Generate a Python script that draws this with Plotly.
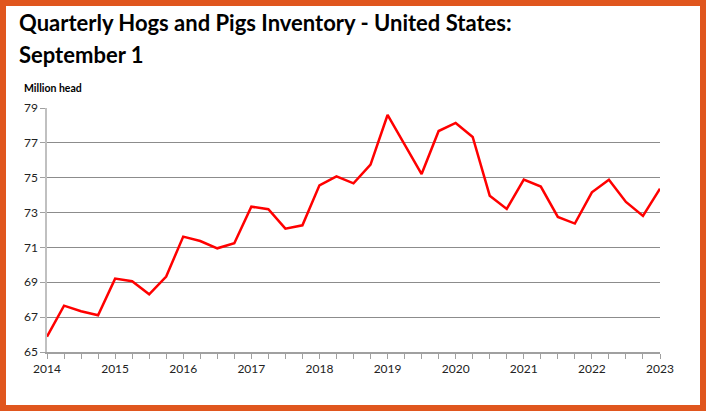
import plotly.graph_objects as go

# Quarterly periods (year, quarter index 0-3)
years = [2014]*4 + [2015]*4 + [2016]*4 + [2017]*4 + [2018]*4 + [2019]*4 + [2020]*4 + [2021]*4 + [2022]*4 + [2023]
quarters = [0, 1, 2, 3] * 9 + [0]
inventory = [65.88, 67.66, 67.34, 67.11,
             69.21, 69.06, 68.31, 69.33,
             71.62, 71.37, 70.95, 71.24,
             73.34, 73.19, 72.08, 72.27,
             74.56, 75.08, 74.68, 75.75,
             78.60, 76.92, 75.21, 77.68,
             78.14, 77.34, 73.97, 73.21,
             74.89, 74.49, 72.75, 72.37,
             74.16, 74.89, 73.61, 72.81,
             74.37]
year_ticks = list(range(2014, 2024))
y_ticks = [65, 67, 69, 71, 73, 75, 77, 79]

x_vals = [y + q / 4 for y, q in zip(years, quarters)]

FONT = "Lato"
ORANGE = "#E0561E"

fig = go.Figure()
fig.add_trace(go.Scatter(x=x_vals, y=inventory, mode="lines",
                         line=dict(color="#FF0000", width=2.5),
                         hoverinfo="x+y", showlegend=False))

# plot area: x 47..660 px, y 108..352 px
W, H = 706, 411
L, R, T, B = 47, 46, 108, 59
pw, ph = W - L - R, H - T - B

def px(x):
    return (x - L) / pw

def py(y):
    return (H - B - y) / ph

fig.add_shape(type="rect", xref="paper", yref="paper",
              x0=px(6), x1=px(700), y0=py(405), y1=py(6),
              fillcolor="white", line=dict(width=0), layer="below")

fig.add_annotation(text="<b>Quarterly Hogs and Pigs Inventory - United States:</b>",
                   xref="paper", yref="paper", x=px(17), y=py(23),
                   xanchor="left", yanchor="middle", showarrow=False,
                   font=dict(family=FONT, size=22, color="black"))
fig.add_annotation(text="<b>September 1</b>",
                   xref="paper", yref="paper", x=px(17), y=py(54),
                   xanchor="left", yanchor="middle", showarrow=False,
                   font=dict(family=FONT, size=22, color="black"))
fig.add_annotation(text="<b>Million head</b>",
                   xref="paper", yref="paper", x=px(22), y=py(88),
                   xanchor="left", yanchor="middle", showarrow=False,
                   font=dict(family=FONT, size=10.5, color="black"))

fig.update_layout(
    width=W, height=H,
    margin=dict(l=L, r=R, t=T, b=B),
    paper_bgcolor=ORANGE,
    plot_bgcolor="rgba(0,0,0,0)",
    font=dict(family=FONT, size=12, color="#222222"),
    xaxis=dict(range=[2014, 2023], tickmode="array", tickvals=year_ticks,
               ticktext=[str(v) for v in year_ticks],
               showgrid=False, zeroline=False,
               showline=True, linecolor="#A0A0A0", linewidth=1.5,
               ticks="outside", ticklen=5, tickcolor="#A0A0A0", tickwidth=1,
               minor=dict(dtick=0.25, tick0=2014, ticks="outside", ticklen=5,
                          tickcolor="#A0A0A0", showgrid=False),
               fixedrange=True),
    yaxis=dict(range=[65, 79], tickmode="array", tickvals=y_ticks,
               showgrid=True, gridcolor="#8C8C8C", gridwidth=1,
               zeroline=False, showline=True, linecolor="#C0C0C0", linewidth=1.5,
               ticks="outside", ticklen=5, tickcolor="#A0A0A0",
               fixedrange=True),
)

fig.write_html("out.html", config={"displayModeBar": False},
               post_script="document.body.style.margin='0';document.body.style.overflow='hidden';")
